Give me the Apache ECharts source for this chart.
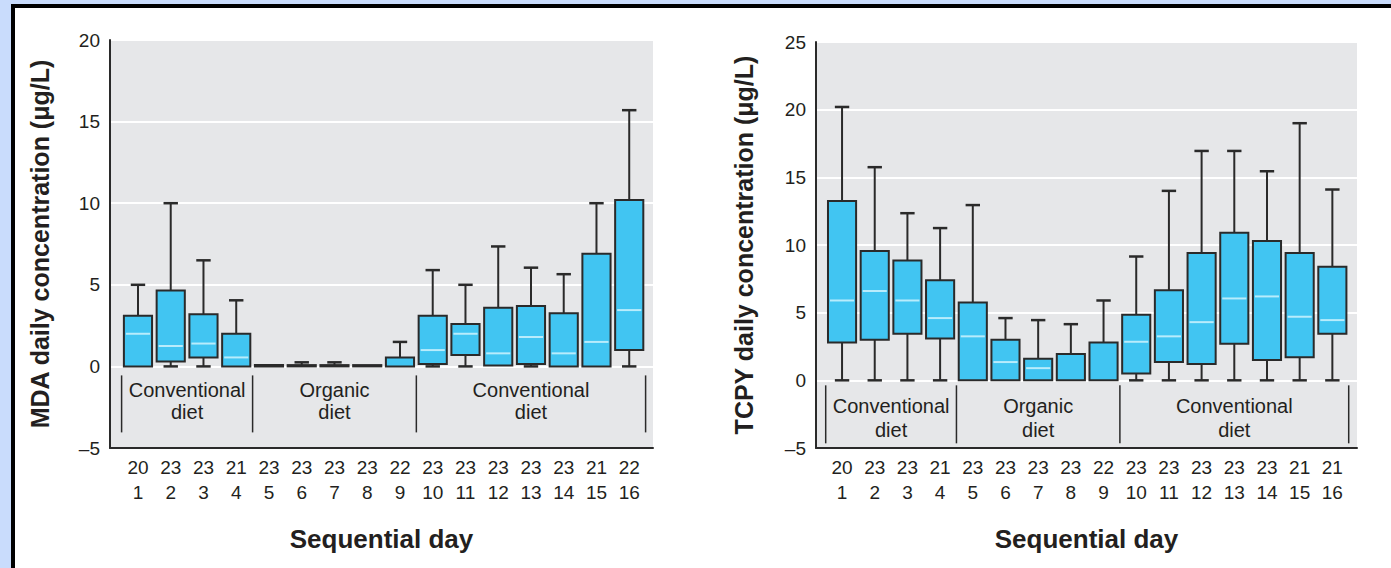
<!DOCTYPE html>
<html>
<head>
<meta charset="utf-8">
<script src="https://cdn.jsdelivr.net/npm/echarts@6/dist/echarts.min.js"></script>
<style>
html, body { margin: 0; padding: 0; width: 1391px; height: 568px; overflow: hidden; background: #c9dcfc; }
#frame { position: absolute; left: 11px; top: 4px; right: 0; bottom: 0; background: #fff; border-left: 4px solid #000; border-top: 4px solid #000; }
#chart { position: absolute; left: 0; top: 0; width: 1391px; height: 568px; }
</style>
</head>
<body>
<div id="frame"></div>
<div id="chart"></div>
<script>
// sequential day and number of samples per day
const days = [1, 2, 3, 4, 5, 6, 7, 8, 9, 10, 11, 12, 13, 14, 15, 16];
const mdaCounts = [20, 23, 23, 21, 23, 23, 23, 23, 22, 23, 23, 23, 23, 23, 21, 22];
const tcpyCounts = [20, 23, 23, 21, 23, 23, 23, 23, 22, 23, 23, 23, 23, 23, 21, 21];

// [min, Q1, median, Q3, max]
const mdaBoxes = [
  [0, 0, 2.0, 3.1, 5.0],
  [0, 0.3, 1.25, 4.65, 10.0],
  [0, 0.55, 1.4, 3.2, 6.5],
  [0, 0, 0.55, 2.0, 4.05],
  [0, 0, 0, 0.08, 0.08],
  [0, 0, 0, 0.08, 0.25],
  [0, 0, 0, 0.08, 0.25],
  [0, 0, 0, 0.08, 0.08],
  [0, 0, 0, 0.55, 1.5],
  [0, 0.15, 1.0, 3.1, 5.9],
  [0, 0.7, 2.0, 2.6, 5.0],
  [0, 0.05, 0.8, 3.6, 7.35],
  [0, 0.15, 1.8, 3.7, 6.05],
  [0, 0, 0.8, 3.25, 5.65],
  [0, 0, 1.5, 6.9, 10.0],
  [0, 1.0, 3.45, 10.2, 15.7]
];
const tcpyBoxes = [
  [0, 2.8, 5.9, 13.25, 20.2],
  [0, 3.0, 6.6, 9.55, 15.75],
  [0, 3.45, 5.9, 8.85, 12.35],
  [0, 3.1, 4.6, 7.4, 11.25],
  [0, 0, 3.25, 5.75, 12.95],
  [0, 0, 1.35, 3.0, 4.6],
  [0, 0, 0.9, 1.6, 4.45],
  [0, 0, 0, 1.95, 4.15],
  [0, 0, 0, 2.8, 5.9],
  [0, 0.5, 2.85, 4.85, 9.15],
  [0, 1.35, 3.25, 6.65, 14.0],
  [0, 1.2, 4.3, 9.4, 16.95],
  [0, 2.7, 6.05, 10.9, 16.95],
  [0, 1.5, 6.2, 10.3, 15.45],
  [0, 1.7, 4.7, 9.4, 19.0],
  [0, 3.45, 4.45, 8.4, 14.1]
];

// diet periods (index of first and last day)
const groupNames = ['Conventional\ndiet', 'Organic\ndiet', 'Conventional\ndiet'];
const groupStart = [0, 4, 9];
const groupEnd = [3, 8, 15];

const mdaTicks = { min: -5, max: 20, interval: 5 };
const tcpyTicks = { min: -5, max: 25, interval: 5 };

const sans = '"Liberation Sans", Arial, sans-serif';
const ink = '#2a2a2a';
const textColor = '#231f20';
const boxFill = '#41c5f2';
const medianColor = '#b8ecfc';

function renderBox(params, api) {
  const i = api.value(0);
  const band = api.size([1, 0])[0];
  const x = api.coord([i, 0])[0];
  const py = k => api.coord([i, api.value(k)])[1];
  const yMin = py(1), yQ1 = py(2), yMed = py(3), yQ3 = py(4), yMax = py(5);
  const bw = band * 0.86, cw = band * 0.44;
  const line = (x1, y1, x2, y2, w) => ({
    type: 'line', shape: { x1, y1, x2, y2 }, style: { stroke: ink, lineWidth: w }
  });
  const children = [];
  if (yQ3 - yMax > 0.5) {
    children.push(line(x, yQ3, x, yMax, 2), line(x - cw / 2, yMax, x + cw / 2, yMax, 2.5));
  }
  if (yMin - yQ1 > 2) {
    children.push(line(x, yQ1, x, yMin, 2), line(x - cw / 2, yMin, x + cw / 2, yMin, 2.5));
  }
  children.push({
    type: 'rect',
    shape: { x: x - bw / 2, y: yQ3, width: bw, height: Math.max(yQ1 - yQ3, 1) },
    style: { fill: boxFill, stroke: ink, lineWidth: 2 }
  });
  if (yQ1 - yMed > 2) {
    children.push({
      type: 'line',
      shape: { x1: x - bw / 2 + 2, y1: yMed, x2: x + bw / 2 - 2, y2: yMed },
      style: { stroke: medianColor, lineWidth: 2 }
    });
  }
  return { type: 'group', children };
}

function groupRenderer(sepTop, sepBottom, textMid, lineH) {
  return function (params, api) {
    const s = api.value(0), e = api.value(1);
    const band = api.size([1, 0])[0];
    const p0 = api.coord([s, 0]);
    const x0 = p0[0] - band / 2;
    const x1 = api.coord([e, 0])[0] + band / 2;
    const zero = p0[1];
    const sep = xx => ({
      type: 'line',
      shape: { x1: xx, y1: zero + sepTop, x2: xx, y2: zero + sepBottom },
      style: { stroke: ink, lineWidth: 1.5 }
    });
    const children = [sep(x0)];
    if (params.dataIndex === groupNames.length - 1) children.push(sep(x1));
    children.push({
      type: 'text',
      x: (x0 + x1) / 2,
      y: zero + textMid,
      style: {
        text: groupNames[params.dataIndex],
        fill: textColor,
        font: '20px ' + sans,
        lineHeight: lineH,
        align: 'center',
        verticalAlign: 'middle'
      }
    });
    return { type: 'group', children };
  };
}

function panel(gi, bgGrid, boxGrid, ticks, yName, yGap, counts, boxes, grp) {
  const grids = [
    Object.assign({ show: true, backgroundColor: '#e6e7e9', borderWidth: 0 }, bgGrid),
    Object.assign({ show: false }, boxGrid)
  ];
  const xAxes = [
    {
      gridIndex: gi, type: 'value', min: 0, max: 1,
      axisLine: { show: true, onZero: false, lineStyle: { color: ink, width: 2 } },
      axisTick: { show: false }, axisLabel: { show: false }, splitLine: { show: false },
      name: 'Sequential day', nameLocation: 'middle', nameGap: 78,
      nameTextStyle: { fontFamily: sans, fontWeight: 'bold', fontSize: 26, color: textColor }
    },
    {
      gridIndex: gi + 1, type: 'category', data: days,
      axisLine: { show: false }, axisTick: { show: false },
      axisLabel: {
        interval: 0, margin: 7, fontFamily: sans, fontSize: 19, lineHeight: 25, color: textColor,
        formatter: (v, idx) => counts[idx] + '\n' + v
      }
    }
  ];
  const yAxes = [
    {
      gridIndex: gi, type: 'value', min: ticks.min, max: ticks.max, interval: ticks.interval,
      axisLine: { show: true, lineStyle: { color: ink, width: 2 } },
      axisTick: { show: false },
      axisLabel: { margin: 10, fontFamily: sans, fontSize: 19, color: textColor, formatter: v => (v < 0 ? '\u2013' + (-v) : v) },
      splitLine: { show: true, lineStyle: { color: '#ffffff', width: 2 } },
      name: yName, nameLocation: 'middle', nameGap: yGap,
      nameTextStyle: { fontFamily: sans, fontWeight: 'bold', fontSize: 25, color: textColor }
    },
    { gridIndex: gi + 1, type: 'value', min: ticks.min, max: ticks.max, show: false }
  ];
  const series = [
    {
      type: 'custom', xAxisIndex: gi + 1, yAxisIndex: gi + 1,
      renderItem: renderBox,
      encode: { x: 0, y: [1, 2, 3, 4, 5] },
      data: boxes.map((b, i) => [i].concat(b)),
      silent: true
    },
    {
      type: 'custom', xAxisIndex: gi + 1, yAxisIndex: gi + 1,
      renderItem: groupRenderer(grp[0], grp[1], grp[2], grp[3]),
      encode: { x: 0, y: -1 },
      data: groupStart.map((s, k) => [s, groupEnd[k]]),
      silent: true
    }
  ];
  return { grids, xAxes, yAxes, series };
}

const left = panel(0,
  { left: 110, top: 40, width: 543, height: 408 },
  { left: 121.6, top: 40, width: 524, height: 408 },
  mdaTicks, 'MDA daily concentration (\u03bcg/L)', 58, mdaCounts, mdaBoxes, [9, 66, 35, 22]);
const right = panel(2,
  { left: 816, top: 42, width: 541, height: 406 },
  { left: 825.7, top: 42, width: 523, height: 406 },
  tcpyTicks, 'TCPY daily concentration (\u03bcg/L)', 60, tcpyCounts, tcpyBoxes, [5, 63, 38, 24]);

const chart = echarts.init(document.getElementById('chart'), null, { renderer: 'svg' });
chart.setOption({
  animation: false,
  grid: left.grids.concat(right.grids),
  xAxis: left.xAxes.concat(right.xAxes),
  yAxis: left.yAxes.concat(right.yAxes),
  series: left.series.concat(right.series)
});
</script>
</body>
</html>
